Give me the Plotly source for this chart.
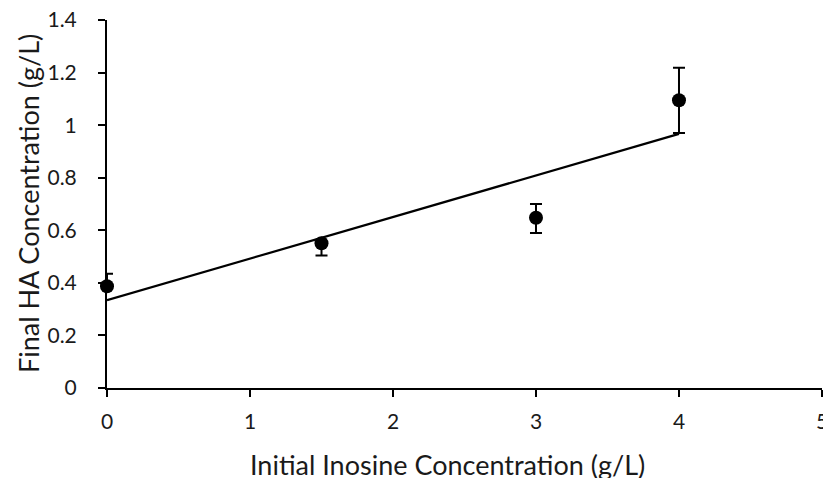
import numpy as np
import plotly.graph_objects as go

inosine = [0, 1.5, 3, 4]
ha_final = [0.387, 0.551, 0.648, 1.095]
err_plus = [0.048, 0.0, 0.052, 0.123]
err_minus = [0.0, 0.047, 0.058, 0.125]

x_title = "Initial Inosine Concentration (g/L)"
y_title = "Final HA Concentration (g/L)"

slope, intercept = np.polyfit(inosine, ha_final, 1)
trend_x = [min(inosine), max(inosine)]
trend_y = [intercept + slope * v for v in trend_x]

font_family = "Lato, 'Open Sans', sans-serif"
text_color = "#1a1a1a"

fig_w, fig_h = 823, 478
m_l, m_r, m_t, m_b = 107, 1, 20, 90
plot_w = fig_w - m_l - m_r

fig = go.Figure()
fig.add_trace(go.Scatter(
    x=trend_x, y=trend_y, mode="lines",
    line=dict(color="black", width=2.2),
    showlegend=False, hoverinfo="skip", cliponaxis=False,
))
fig.add_trace(go.Scatter(
    x=inosine, y=ha_final, mode="markers",
    marker=dict(color="black", size=14),
    error_y=dict(type="data", symmetric=False, array=err_plus, arrayminus=err_minus,
                 color="black", thickness=2, width=6),
    showlegend=False, cliponaxis=False,
))

fig.update_layout(
    width=fig_w, height=fig_h,
    margin=dict(l=m_l, r=m_r, t=m_t, b=m_b),
    paper_bgcolor="white", plot_bgcolor="white",
    font=dict(family=font_family, color=text_color),
    xaxis=dict(
        range=[0, 5.0001], tickvals=[0, 1, 2, 3, 4, 5],
        showgrid=False, zeroline=False, automargin=False,
        showline=True, linecolor="black", linewidth=2,
        ticks="outside", ticklen=7, tickwidth=1.5, tickcolor="black",
        ticklabelstandoff=7, ticklabeloverflow="allow",
        tickfont=dict(size=21, family=font_family, color=text_color),
    ),
    yaxis=dict(
        range=[0, 1.4001], tickvals=[0, 0.2, 0.4, 0.6, 0.8, 1, 1.2, 1.4],
        ticktext=["0", "0.2", "0.4", "0.6", "0.8", "1", "1.2", "1.4"],
        showgrid=False, zeroline=False, automargin=False,
        showline=True, linecolor="black", linewidth=2,
        ticks="outside", ticklen=7, tickwidth=1.5, tickcolor="black",
        ticklabelstandoff=17, ticklabeloverflow="allow",
        tickfont=dict(size=21, family=font_family, color=text_color),
    ),
    annotations=[
        dict(text=x_title, xref="paper", yref="paper", x=(447 - m_l) / plot_w, y=0,
             yshift=-76, showarrow=False, xanchor="center", yanchor="middle",
             font=dict(size=27, family=font_family, color=text_color)),
        dict(text=y_title, xref="paper", yref="paper", x=0, y=0.5,
             xshift=-79, showarrow=False, textangle=-90, xanchor="center", yanchor="middle",
             font=dict(size=27, family=font_family, color=text_color)),
    ],
)

# remove the page's default 8px body margin so the figure fills the window exactly
fig.write_html(
    "out.html",
    config={"displayModeBar": False},
    post_script="document.body.style.margin='0';document.body.style.overflow='hidden';",
)
